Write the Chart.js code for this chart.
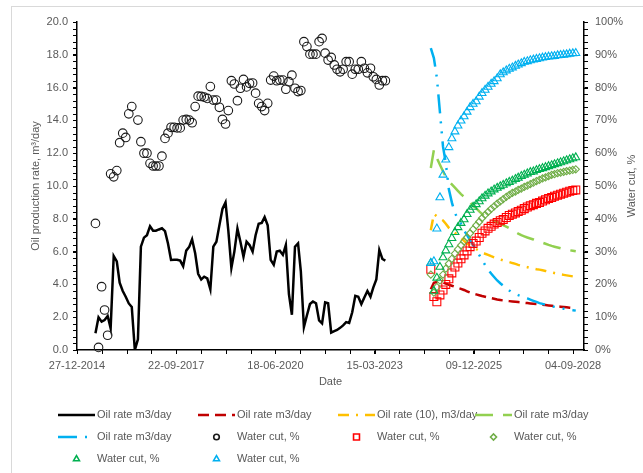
<!DOCTYPE html>
<html lang="en">
  <head>
    <meta charset="UTF-8" />
    <title>Oil production rate and water cut</title>
    <script src="https://cdn.jsdelivr.net/npm/chart.js"></script>
    <style>
      body { margin: 0; background: #fff; }
    </style>
  </head>
  <body>
    <canvas id="prodChart" width="643" height="473"></canvas>
    <script>
      // history: one value per month, first month below
      const histStart = [2015, 7];
      const histOilRate = [
        1.02, 1.99, 1.73, 1.83, 2.07, 1.32, 5.73, 5.4, 4.1, 3.6,
        3.25, 2.84, 2.62, 0.0, 0.65, 6.3, 6.85, 7.0, 7.55, 7.27,
        7.27, 7.35, 7.42, 7.25, 6.5, 5.49, 5.5, 5.5, 5.45, 5.1,
        6.06, 6.3, 6.75, 5.9, 4.65, 4.3, 4.47, 4.37, 3.7, 6.3,
        6.6, 7.6, 8.6, 9.0, 7.3, 5.0, 6.0, 7.4, 6.6, 5.69,
        6.6, 6.4, 6.0, 7.0, 7.7, 7.75, 8.1, 7.6, 5.5, 5.2,
        6.0, 6.05, 5.8, 6.4, 3.4, 2.15, 6.3, 6.5, 4.8, 1.4,
        2.1, 2.8, 2.95, 2.85, 1.8, 1.62, 2.9, 2.85, 1.06, 1.15,
        1.22, 1.35, 1.5, 1.7, 1.65, 2.3, 3.3, 3.25, 2.8, 3.2,
        3.6, 3.25, 3.8, 4.3, 6.1, 5.55, 5.45
      ];
      const histWaterCut = [
        38.6, 0.8, 19.3, 12.2, 4.5, 53.7, 52.8, 54.7, 63.2, 66.1,
        64.8, 72.0, 74.2, null, 70.1, 63.5, 60.0, 60.0, 56.9, 56.1,
        56.1, 56.1, 59.1, 64.5, 66.1, 67.9, 67.9, 67.7, 67.7, 70.1,
        70.3, 70.1, 69.3, 74.2, 77.4, 77.3, 77.1, 76.7, 80.3, 76.2,
        76.2, 74.0, 70.3, 68.9, 73.0, 82.1, 81.1, 76.0, 79.8, 82.5,
        80.2, 81.3, 81.4, 78.3, 75.2, 74.2, 73.0, 75.2, 82.3, 83.5,
        82.1, 82.3, 82.3, 79.5, 81.8, 83.8, 79.8, 78.8, 79.1, 94.0,
        92.5, 90.2, 90.2, 90.2, 94.0, 95.0, 90.5, 88.4, 89.2, 86.9,
        85.6, 84.8, 85.6, 87.9, 87.9, 84.1, 85.6, 85.6, 87.9, 85.9,
        84.5, 85.9, 83.3, 82.5, 80.8, 82.1, 82.1
      ];

      // forecasts: one value per month
      const fcStart = [2024, 10];
      const fcOilRateRed = [
        3.7, 4.1, 4.15, 4.15, 4.12, 4.05, 3.98, 3.92, 3.85, 3.79,
        3.73, 3.66, 3.58, 3.5, 3.44, 3.39, 3.34, 3.29, 3.25, 3.2,
        3.16, 3.12, 3.08, 3.05, 3.02, 3.0, 2.98, 2.96, 2.94, 2.92,
        2.9, 2.88, 2.86, 2.84, 2.82, 2.8, 2.78, 2.76, 2.74, 2.72,
        2.7, 2.68, 2.66, 2.64, 2.62, 2.6, 2.58, 2.56, 2.54
      ];
      const fcOilRate10 = [
        7.3, 8.3, 8.15, 8.0, 7.9, 7.7, 7.45, 7.3, 7.15, 7.0,
        6.85, 6.65, 6.5, 6.37, 6.25, 6.15, 6.05, 5.95, 5.87, 5.8,
        5.72, 5.65, 5.58, 5.52, 5.46, 5.41, 5.36, 5.3, 5.25, 5.19,
        5.14, 5.09, 5.05, 5.0, 4.97, 4.93, 4.9, 4.86, 4.82, 4.77,
        4.73, 4.69, 4.65, 4.61, 4.58, 4.55, 4.52, 4.49, 4.46
      ];
      const fcOilRateGreen = [
        11.1, 12.2, 11.7, 11.3, 10.9, 10.55, 10.3, 10.1, 9.9, 9.7,
        9.5, 9.35, 9.2, 9.0, 8.8, 8.65, 8.45, 8.3, 8.15, 8.05,
        7.95, 7.87, 7.8, 7.71, 7.62, 7.52, 7.42, 7.31, 7.2, 7.1,
        7.0, 6.93, 6.86, 6.8, 6.74, 6.67, 6.6, 6.54, 6.48, 6.41,
        6.35, 6.3, 6.25, 6.2, 6.14, 6.11, 6.08, 6.05, 6.02
      ];
      const fcOilRateBlue = [
        18.4, 17.8, 16.6, 14.5, 12.4, 11.4, 9.8, 9.0, 8.35, 8.0,
        7.7, 7.3, 7.0, 6.7, 6.4, 6.1, 5.8, 5.5, 5.18, 4.9,
        4.66, 4.45, 4.24, 4.07, 3.92, 3.78, 3.63, 3.5, 3.42, 3.35,
        3.28, 3.22, 3.15, 3.07, 3.0, 2.93, 2.86, 2.81, 2.76, 2.71,
        2.67, 2.63, 2.59, 2.55, 2.52, 2.49, 2.46, 2.43, 2.4
      ];
      const fcWaterCutRed = [
        24.6, 16.3, 14.7, 16.8, 18.3, 20.0, 21.7, 23.5, 25.3, 26.5,
        27.8, 29.0, 30.2, 31.5, 32.5, 33.2, 34.3, 35.6, 36.3, 37.1,
        37.7, 38.4, 38.9, 39.4, 39.8, 40.4, 41.0, 41.4, 41.8, 42.2,
        42.6, 43.1, 43.6, 44.0, 44.3, 44.7, 45.0, 45.4, 45.8, 46.2,
        46.5, 46.9, 47.2, 47.5, 47.8, 48.1, 48.4, 48.6, 48.8
      ];
      const fcWaterCutDiamond = [
        23.0, 17.5, 19.2, 21.2, 23.0, 24.8, 26.3, 27.8, 29.4, 30.7,
        31.9, 33.1, 34.3, 35.6, 36.8, 38.0, 39.1, 40.2, 41.2, 42.1,
        43.0, 43.8, 44.6, 45.3, 46.0, 46.7, 47.3, 47.9, 48.3, 48.8,
        49.2, 49.7, 50.1, 50.6, 51.0, 51.5, 51.9, 52.3, 52.6, 53.0,
        53.4, 53.6, 53.9, 54.1, 54.3, 54.5, 54.7, 54.9, 55.1
      ];
      const fcWaterCutGreen = [
        26.5, 18.0, 22.0, 25.3, 28.2, 30.3, 32.2, 34.1, 35.9, 37.4,
        38.7, 39.8, 41.4, 42.7, 43.6, 44.4, 45.3, 46.2, 47.0, 47.7,
        48.3, 48.9, 49.4, 49.9, 50.3, 50.8, 51.2, 51.6, 52.1, 52.5,
        53.0, 53.4, 53.8, 54.2, 54.4, 54.8, 55.1, 55.4, 55.7, 56.0,
        56.3, 56.6, 56.9, 57.2, 57.5, 57.8, 58.1, 58.4, 58.7
      ];
      const fcWaterCutBlue = [
        26.5, 27.0, 37.0, 46.5, 53.4, 58.0, 61.8, 64.5, 66.6, 68.4,
        69.9, 71.2, 72.6, 74.0, 75.0, 75.8, 77.2, 78.3, 79.3, 80.2,
        81.1, 81.9, 82.8, 84.0, 84.6, 85.2, 85.7, 86.1, 86.6, 87.0,
        87.4, 87.8, 88.0, 88.3, 88.5, 88.7, 88.9, 89.1, 89.25, 89.4,
        89.5, 89.6, 89.8, 89.9, 90.0, 90.1, 90.3, 90.4, 90.5
      ];

      const seriesNames = [
        'Oil rate m3/day', 'Oil rate m3/day', 'Oil rate (10), m3/day', 'Oil rate m3/day',
        'Oil rate m3/day', 'Water cut, %', 'Water cut, %', 'Water cut, %',
        'Water cut, %', 'Water cut, %'
      ];

      // axes (x in excel day serials)
      const xMin = 42000;
      const xMax = 47110;
      const xMajorTicks = [42000, 43000, 44000, 45000, 46000, 47000];
      const xMinor = 250;

      const EPOCH = Date.UTC(1899, 11, 30);
      const toSerial = (y, m, k) => Math.round((Date.UTC(y, m - 1 + k, 1) - EPOCH) / 864e5);
      const fmtDate = (v) => {
        const d = new Date(EPOCH + v * 864e5);
        const p = (n) => String(n).padStart(2, '0');
        return p(d.getUTCDate()) + '-' + p(d.getUTCMonth() + 1) + '-' + d.getUTCFullYear();
      };
      const points = (start, vals) =>
        vals.map((v, k) => ({ x: toSerial(start[0], start[1], k), y: v }));

      const FONT = "'Liberation Sans', Arial, sans-serif";
      Chart.defaults.font.family = FONT;
      Chart.defaults.font.size = 11;
      Chart.defaults.color = '#595959';

      const lineSeries = (i, data, color, dash, width) => ({
        label: seriesNames[i],
        data: data,
        yAxisID: 'y',
        borderColor: color,
        borderWidth: width,
        borderDash: dash,
        pointRadius: 0,
        fill: false,
        tension: 0,
        order: 20 - i,
      });
      const markerSeries = (i, data, color, style, radius) => ({
        label: seriesNames[i],
        data: data,
        yAxisID: 'y1',
        showLine: false,
        pointStyle: style,
        pointRadius: radius,
        pointBorderColor: color,
        pointBackgroundColor: 'rgba(0,0,0,0)',
        pointBorderWidth: 1.1,
        borderColor: color,
        clip: false,
        order: 20 - i,
      });

      const datasets = [
        lineSeries(0, points(histStart, histOilRate), '#000000', [], 2.5),
        lineSeries(1, points(fcStart, fcOilRateRed), '#C00000', [11, 6], 2.5),
        lineSeries(2, points(fcStart, fcOilRate10), '#FFC000', [11, 7, 2, 7], 2.5),
        lineSeries(3, points(fcStart, fcOilRateGreen), '#92D050', [18, 10], 2.5),
        lineSeries(4, points(fcStart, fcOilRateBlue), '#00B0F0', [19, 8, 2, 8, 2, 8], 2.5),
        markerSeries(5, points(histStart, histWaterCut), '#1a1a1a', 'circle', 4.3),
        markerSeries(6, points(fcStart, fcWaterCutRed), '#FF0000', 'rect', 5.6),
        markerSeries(7, points(fcStart, fcWaterCutDiamond), '#70AD47', 'rectRot', 3.6),
        markerSeries(8, points(fcStart, fcWaterCutGreen), '#00B050', 'triangle', 4.6),
        markerSeries(9, points(fcStart, fcWaterCutBlue), '#00B0F0', 'triangle', 4.6),
      ];

      // light frame around the whole chart
      const frame = {
        id: 'frame',
        beforeDraw(chart) {
          const ctx = chart.ctx;
          ctx.save();
          ctx.fillStyle = '#fff';
          ctx.fillRect(0, 0, chart.width, chart.height);
          ctx.strokeStyle = '#D9D9D9';
          ctx.lineWidth = 1;
          ctx.strokeRect(11.5, 6.5, chart.width + 20, chart.height + 20);
          ctx.restore();
        },
      };

      // minor tick marks on all three axes
      const minorTicks = {
        id: 'minorTicks',
        afterDraw(chart) {
          const { ctx, chartArea: a, scales } = chart;
          ctx.save();
          ctx.strokeStyle = '#000';
          ctx.lineWidth = 1;
          ctx.beginPath();
          for (let v = xMin; v <= xMax; v += xMinor) {
            const px = Math.round(scales.x.getPixelForValue(v)) + 0.5;
            ctx.moveTo(px, a.bottom);
            ctx.lineTo(px, a.bottom + 4);
          }
          for (let i = 0; i <= 50; i++) {
            const py = Math.round(scales.y.getPixelForValue(i * 0.4)) + 0.5;
            ctx.moveTo(a.left - 4, py);
            ctx.lineTo(a.left, py);
            const pr = Math.round(scales.y1.getPixelForValue(i * 2)) + 0.5;
            ctx.moveTo(a.right, pr);
            ctx.lineTo(a.right + 4, pr);
          }
          ctx.stroke();
          ctx.restore();
        },
      };

      // right axis title reads bottom-to-top like the left one
      const rightTitle = {
        id: 'rightTitle',
        afterDraw(chart) {
          const { ctx, chartArea: a } = chart;
          ctx.save();
          ctx.translate(632, (a.top + a.bottom) / 2);
          ctx.rotate(-Math.PI / 2);
          ctx.font = '11px ' + FONT;
          ctx.fillStyle = '#595959';
          ctx.textAlign = 'center';
          ctx.textBaseline = 'middle';
          ctx.fillText('Water cut, %', 0, 0);
          ctx.restore();
        },
      };

      // excel style legend grid under the plot
      const legendCols = [58, 198, 338, 475];
      const legendRows = [415, 437, 459];
      const sampleLen = 37;
      const legendMarkerSize = { circle: 2.8, rect: 4.2, rectRot: 3, triangle: 3.4 };
      const bottomLegend = {
        id: 'bottomLegend',
        afterDraw(chart) {
          const ctx = chart.ctx;
          chart.data.datasets.forEach((ds, i) => {
            const x = legendCols[i % 4];
            const y = legendRows[Math.floor(i / 4)];
            ctx.save();
            if (ds.showLine === false) {
              ctx.strokeStyle = ds.pointBorderColor;
              ctx.fillStyle = 'rgba(0,0,0,0)';
              ctx.lineWidth = 1.6;
              Chart.helpers.drawPoint(
                ctx,
                { pointStyle: ds.pointStyle, radius: legendMarkerSize[ds.pointStyle], borderWidth: 1.6, rotation: 0 },
                x + sampleLen / 2,
                y
              );
            } else {
              ctx.strokeStyle = ds.borderColor;
              ctx.lineWidth = ds.borderWidth;
              ctx.setLineDash(ds.borderDash);
              ctx.beginPath();
              ctx.moveTo(x, y);
              ctx.lineTo(x + sampleLen, y);
              ctx.stroke();
            }
            ctx.restore();
            ctx.save();
            ctx.font = '11px ' + FONT;
            ctx.fillStyle = '#595959';
            ctx.textBaseline = 'middle';
            ctx.fillText(ds.label, x + sampleLen + 2, y);
            ctx.restore();
          });
        },
      };

      const axisBorder = { display: true, color: '#000', width: 1.5 };
      const axisGrid = { drawOnChartArea: false, drawTicks: true, tickLength: 4, tickColor: '#000' };

      new Chart(document.getElementById('prodChart'), {
        type: 'line',
        data: { datasets: datasets },
        options: {
          responsive: false,
          animation: false,
          devicePixelRatio: 1,
          layout: { padding: { top: 22, bottom: 81, left: 0, right: 0 } },
          plugins: { legend: { display: false }, tooltip: { enabled: false } },
          scales: {
            x: {
              type: 'linear',
              min: xMin,
              max: xMax,
              afterFit: (s) => { s.height = 42; },
              afterBuildTicks: (s) => { s.ticks = xMajorTicks.map((v) => ({ value: v })); },
              border: axisBorder,
              grid: axisGrid,
              ticks: {
                autoSkip: false,
                maxRotation: 0,
                padding: 5,
                callback: (v) => fmtDate(v),
              },
              title: { display: true, text: 'Date', padding: { top: 0, bottom: 3.4 } },
            },
            y: {
              position: 'left',
              min: 0,
              max: 20,
              afterFit: (s) => { s.width = 77; },
              border: axisBorder,
              grid: axisGrid,
              ticks: { stepSize: 2, padding: 5, callback: (v) => v.toFixed(1) },
              title: { display: true, text: 'Oil production rate, m³/day', padding: { top: 29.4, bottom: 0 } },
            },
            y1: {
              position: 'right',
              min: 0,
              max: 100,
              afterFit: (s) => { s.width = 59; },
              border: axisBorder,
              grid: axisGrid,
              ticks: { stepSize: 10, padding: 7, callback: (v) => v + '%' },
            },
          },
        },
        plugins: [frame, minorTicks, rightTitle, bottomLegend],
      });
    </script>
  </body>
</html>
